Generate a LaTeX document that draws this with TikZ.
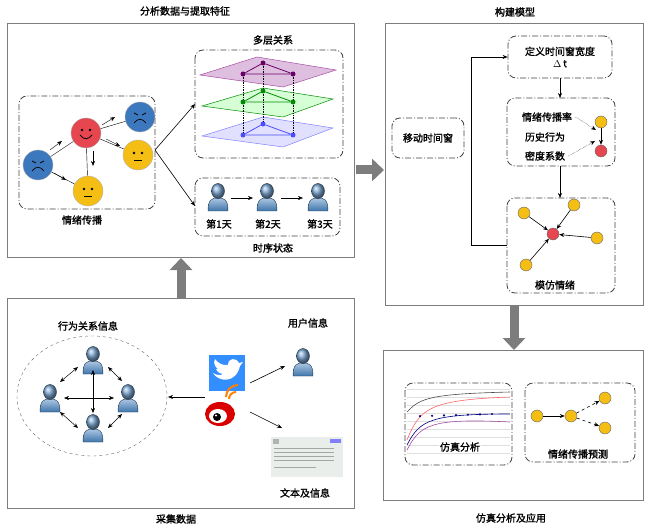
\documentclass[tikz,border=0pt]{standalone}
\usepackage{fontspec}
\setmainfont{Noto Sans CJK SC}[AutoFakeBold=1.5]
\usetikzlibrary{arrows.meta,shapes.geometric,calc}
\definecolor{pb}{RGB}{70,130,190}
\definecolor{fblue}{RGB}{60,120,190}
\definecolor{fred}{RGB}{230,70,80}
\definecolor{fyel}{RGB}{245,190,20}
\definecolor{gar}{RGB}{125,125,125}
\begin{document}
\begin{tikzpicture}[x=1pt,y=-1pt,>={Stealth[length=5pt,width=4pt]},
  frame/.style={draw=gar,line width=1pt},
  dd/.style={draw=black!75,line width=0.8pt,dash pattern=on 6pt off 2pt on 1pt off 2pt,rounded corners=8pt},
  lab/.style={font=\fontsize{10}{12}\selectfont\bfseries},
  big/.style={line width=9pt,draw=gar,-{Triangle[length=12pt,width=22pt]}},
  face/.style={circle,draw=black!30,minimum size=30pt,inner sep=0pt},
  dot/.style={circle,draw=black!60,minimum size=12pt,inner sep=0pt,fill=fyel},
  rdot/.style={dot,fill=fred},
  ld/.style={circle,inner sep=0pt,minimum size=5pt},
  sad/.pic={\draw[line width=0.7pt] (-6,-4)--(-2,-2) (6,-4)--(2,-2) (-6,6) .. controls (-2,1) and (2,1) .. (6,6);},
  happy/.pic={\fill (-4,-3) circle (1.3) (4,-3) circle (1.3); \draw[line width=0.8pt] (-6,2) .. controls (-2,7) and (2,7) .. (6,2);},
  neutral/.pic={\fill (-4,-2) circle (1.3) (4,-2) circle (1.3); \draw[line width=0.8pt] (-4,5) -- (4,5);},
  person/.pic={\shade[top color=pb!45,bottom color=pb!90!black,draw=pb!40!black,line width=0.4pt] (-10,14) .. controls (-10,2) and (-6,1) .. (0,1) .. controls (6,1) and (10,2) .. (10,14) -- cycle;
    \shade[ball color=pb!70,draw=pb!40!black,line width=0.4pt] (0,-6) ellipse (6.5 and 7.5);}
]
\useasboundingbox (0,0) rectangle (650,529);
% ---------- frames & titles
\draw[frame] (7,24) rectangle (354,258);
\node[lab] (t1) at (185,11) {分析数据与提取特征};
\draw[frame] (7,298) rectangle (354,508);
\node[lab] (t2) at (176,519) {采集数据};
\draw[frame] (385,24) rectangle (643,305);
\node[lab] (t3) at (515,12) {构建模型};
\draw[frame] (383,350) rectangle (643,500);
\node[lab] (t4) at (511,518) {仿真分析及应用};
\coordinate (u1) at (181,298); \coordinate (u2) at (181,258);
\draw[big] (u1) -- (u2);
\coordinate (r1) at (356,170); \coordinate (r2) at (384,170);
\draw[big] (r1) -- (r2);
\coordinate (d1) at (514,306); \coordinate (d2) at (514,350);
\draw[big] (d1) -- (d2);
% ---------- emotion propagation
\draw[dd] (19,96) rectangle (155,209);
\node[lab] (le) at (82,220) {情绪传播};
\node[face,fill=fblue] (fa) at (38,165) {}; \pic at (fa) {sad};
\node[face,fill=fred] (fb) at (86,133) {}; \pic at (fb) {happy};
\node[face,fill=fblue] (fc) at (140,117) {}; \pic at (fc) {sad};
\node[face,fill=fyel] (fd) at (138,155) {}; \pic at (fd) {neutral};
\node[face,fill=fyel] (fe) at (88,191) {}; \pic at (fe) {neutral};
\draw (fa) -- (fb); \draw[->] (50,150) -- (62,141);
\draw (fa) -- (fe); \draw[->] (54,173) -- (66,180);
\draw (fb) -- (fc); \draw[->] (102,125) -- (115,117);
\draw (fb) -- (fd); \draw[->] (106,139) -- (120,146);
\draw (fb) -- (fe); \draw[->] (93,151) -- (93,166);
\coordinate (sp) at (155,150);
% ---------- multi-layer
\draw[dd] (195,50) rectangle (343,158);
\node[lab] (lm) at (273,40) {多层关系};
\fill[violet!25,draw=violet!70,line width=0.5pt] (200,75) -- (257,57) -- (336,70) -- (283,87) -- cycle;
\fill[green!20,draw=green!55!black,line width=0.5pt,fill opacity=0.8] (202,106) -- (263,88) -- (333,99) -- (283,117) -- cycle;
\fill[blue!15,draw=blue!50,line width=0.5pt,fill opacity=0.8] (202,136) -- (263,117) -- (333,128) -- (283,147) -- cycle;
\foreach \c/\y/\n in {violet!80!black/0/p,green!55!black/28/g,blue!70/61/b}{
  \node[ld,fill=\c] (\n1) at (243,74+\y) {};
  \node[ld,fill=\c] (\n2) at (263,63+\y) {};
  \node[ld,fill=\c] (\n3) at (293,74+\y) {};
  \draw[\c,line width=0.8pt] (\n1) -- (\n2) -- (\n3) -- (\n1);}
\draw[densely dotted,line width=0.7pt] (p1)--(g1)--(b1) (p2)--(g2)--(b2) (p3)--(g3)--(b3);
% ---------- time series
\draw[dd] (195,178) rectangle (340,236);
\node[lab] (lt) at (273,248) {时序状态};
\pic at (218,197) {person}; \pic at (267,197) {person}; \pic at (318,197) {person};
\coordinate (ta) at (231,198); \coordinate (tb) at (253,198);
\coordinate (tc) at (281,198); \coordinate (td) at (303,198);
\draw[->] (ta) -- (tb); \draw[->] (tc) -- (td);
\node[lab] (d1l) at (219,224) {第1天};
\node[lab] (d2l) at (268,224) {第2天};
\node[lab] (d3l) at (320,224) {第3天};
\coordinate (m1) at (195,104); \coordinate (m2) at (195,206);
\draw[->,line width=0.6pt] (sp) -- (m1); \draw[->,line width=0.6pt] (sp) -- (m2);
% ---------- collection
\node[lab] (lb) at (88,326) {行为关系信息};
\draw[dashed,black!60] (92,396) ellipse (75 and 60);
\pic at (93,360) {person}; \pic at (50,398) {person}; \pic at (128,398) {person}; \pic at (93,428) {person};
\coordinate (pT) at (93,370); \coordinate (pB) at (93,413);
\coordinate (pL) at (64,398); \coordinate (pR) at (114,398);
\draw[<->,line width=0.5pt] (pT) -- (pB);
\draw[<->,line width=0.5pt] (pL) -- (pR);
\draw[<->,line width=0.5pt] (78,367) -- (60,382);
\draw[<->,line width=0.5pt] (108,367) -- (122,381);
\draw[<->,line width=0.5pt] (60,412) -- (78,428);
\draw[<->,line width=0.5pt] (122,414) -- (108,428);
% twitter
\node[fill=blue!55!cyan!80,minimum size=36pt,inner sep=0pt] (tw) at (227,373) {};
\fill[white] (213,373) .. controls (218,382) and (236,384) .. (240,366) -- (243,362) -- (239,363) .. controls (236,357) and (228,358) .. (228,365) .. controls (222,366) and (217,362) .. (215,359) .. controls (213,363) and (215,367) .. (218,369) -- (216,369) .. controls (218,373) and (221,374) .. (223,374) .. controls (220,376) and (216,375) .. (213,373) -- cycle;
% weibo
\node[ellipse,fill=red!85!black,minimum width=30pt,minimum height=24pt,inner sep=0pt] (wb) at (220,414) {};
\fill[white] (218,416) ellipse (9 and 7);
\fill[black] (217,417) circle (4); \fill[white] (216,415.5) circle (1.2);
\draw[orange,line width=2pt] (229,399) arc[start angle=180,end angle=270,radius=7];
\draw[orange,line width=2pt] (226,397) arc[start angle=180,end angle=270,radius=12];
\coordinate (ca) at (205,397); \coordinate (cb) at (168,397);
\draw[->,line width=0.6pt] (ca) -- (cb);
\coordinate (tw1) at (250,383); \coordinate (tw2) at (285,366);
\draw[->,line width=0.6pt] (tw1) -- (tw2);
\coordinate (wb1) at (250,412); \coordinate (wb2) at (282,428);
\draw[->,line width=0.6pt] (wb1) -- (wb2);
\node[lab] (lu) at (308,323) {用户信息};
\pic at (303,362) {person};
\node[lab] (lx) at (305,493) {文本及信息};
\fill[green!12!gray!15] (271,437) rectangle (343,477);
\fill[gray!60] (273,439) rectangle (279,444); \fill[blue!50] (330,439) rectangle (341,443);
\foreach \y in {448,452,456,460}{\draw[gray!70,line width=0.6pt] (274,\y) -- (334,\y);}
\draw[gray!70,line width=0.6pt] (274,467) -- (316,467);
% ---------- model
\node[dd,lab,minimum width=72pt,minimum height=40pt] (mw) at (428,138) {移动时间窗};
\node[dd,lab,minimum width=104pt,minimum height=42pt,align=center] (dw) at (560,57) {定义时间窗宽度\\$\Delta$\,t};
\draw[dd] (507,98) rectangle (615,166);
\coordinate (b2t) at (560,98); \coordinate (b2b) at (560,166);
\node[lab] (r1t) at (547,117) {情绪传播率};
\node[lab] (r2t) at (545,137) {历史行为};
\node[lab] (r3t) at (545,156) {密度系数};
\node[dot] (y0) at (601,122) {}; \node[rdot] (rd0) at (601,151) {};
\draw[->,line width=0.6pt] (y0) -- (rd0);
\draw[->,densely dotted] (r1t.east) -- (596,130);
\draw[->,densely dotted] (r3t.east) -- (595,141);
\draw[dd] (507,198) rectangle (615,293);
\coordinate (b3t) at (560,198); \coordinate (b3l) at (507,245);
\node[rdot] (rc) at (553,234) {};
\node[dot] (ya) at (524,213) {}; \node[dot] (yb) at (574,205) {};
\node[dot] (yc) at (597,238) {}; \node[dot] (yd) at (526,265) {};
\foreach \n in {ya,yb,yc,yd}{\draw[->,line width=0.6pt] (\n) -- (rc);}
\node[lab] (lmf) at (555,285) {模仿情绪};
\draw[->,line width=0.6pt] (dw.south) -- (b2t);
\draw[->,line width=0.6pt] (b2b) -- (b3t);
\draw[->,line width=0.6pt] (b3l) -- (471,245) -- (471,57) -- (dw.west);
% ---------- simulation
\draw[dd] (405,383) rectangle (512,465);
\foreach \y in {389,397,405,413,421,429,437,445,453}{\draw[gray!25,line width=0.3pt] (407,\y) -- (510,\y);}
\draw[black!70,line width=0.6pt] (407,412) .. controls (420,398) and (430,394) .. (510,392);
\draw[red!60,line width=0.6pt] (407,440) .. controls (420,408) and (430,400) .. (510,397);
\draw[blue!50!black,line width=0.6pt] (407,445) .. controls (420,420) and (430,414) .. (510,414);
\draw[violet!70,line width=0.6pt] (407,450) .. controls (420,425) and (430,418) .. (510,422);
\foreach \x in {420,432,444,456,468,480,492}{\fill[blue!50!black] (\x,{414+(492-\x)*0.03}) circle (1.2);}
\node[lab,fill=white,fill opacity=0.7,text opacity=1,inner sep=1pt] (ls) at (460,447) {仿真分析};
\draw[dd] (525,383) rectangle (635,462);
\node[dot] (q1) at (537,416) {}; \node[dot] (q2) at (571,416) {};
\node[dot] (q3) at (605,398) {}; \node[dot] (q4) at (605,428) {};
\draw[->,line width=0.6pt] (q1) -- (q2);
\draw[->,dashed,line width=0.6pt] (q2) -- (q3);
\draw[->,dashed,line width=0.6pt] (q2) -- (q4);
\node[lab] (lp) at (578,454) {情绪传播预测};
\end{tikzpicture}
\end{document}
